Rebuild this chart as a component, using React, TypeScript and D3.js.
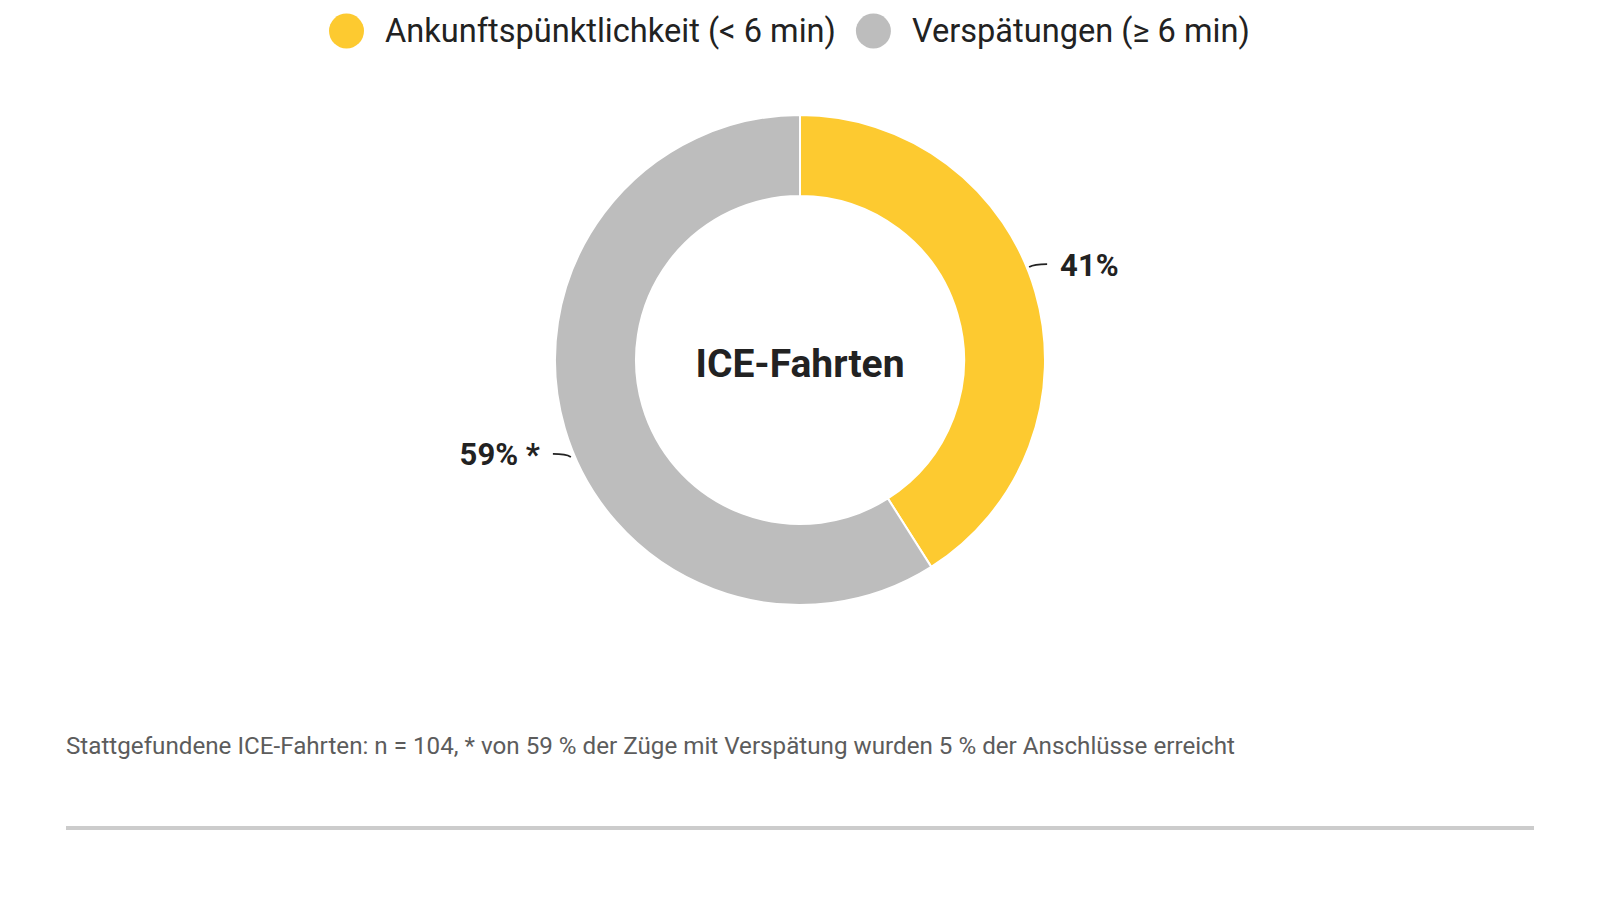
import React, { useRef, useEffect } from 'react';
import * as d3 from 'd3';

// Chart data
const categories = ['Ankunftspünktlichkeit (< 6 min)', 'Verspätungen (≥ 6 min)'];
const values = [41, 59];
const valueLabels = ['41%', '59% *'];
const colors = ['#fdca30', '#bdbdbd'];
const centerTitle = 'ICE-Fahrten';
const footnote =
  'Stattgefundene ICE-Fahrten: n = 104, * von 59 % der Züge mit Verspätung wurden 5 % der Anschlüsse erreicht';

const WIDTH = 1600;
const HEIGHT = 900;
const FONT = 'Roboto, "Noto Sans", sans-serif';

function DonutChart() {
  const svgRef = useRef<SVGSVGElement>(null);

  useEffect(() => {
    if (!svgRef.current) return;
    const svg = d3.select(svgRef.current);
    svg.selectAll('*').remove();

    const cx = 800;
    const cy = 360;
    const outerR = 245;
    const innerR = 164;

    // Legend, laid out from measured text widths
    const legend = svg.append('g').attr('font-family', FONT);
    let x = 329;
    categories.forEach((name, i) => {
      legend.append('circle')
        .attr('cx', x + 17.5)
        .attr('cy', 31)
        .attr('r', 17.5)
        .attr('fill', colors[i]);
      const t = legend.append('text')
        .attr('x', x + 56)
        .attr('y', 42)
        .attr('font-size', 32.6)
        .attr('fill', '#222')
        .text(name);
      const w = (t.node() as SVGTextElement).getComputedTextLength();
      x = x + 56 + w + 20;
    });

    // Donut
    const pie = d3.pie<number>().sort(null).value((d) => d);
    const arc = d3.arc<d3.PieArcDatum<number>>().innerRadius(innerR).outerRadius(outerR);
    const arcs = pie(values);

    const g = svg.append('g').attr('transform', `translate(${cx},${cy})`);
    g.selectAll('path.slice')
      .data(arcs)
      .join('path')
      .attr('class', 'slice')
      .attr('d', arc)
      .attr('fill', (_, i) => colors[i])
      .attr('stroke', '#fff')
      .attr('stroke-width', 2);

    // Center title
    g.append('text')
      .attr('x', 0)
      .attr('y', 4)
      .attr('text-anchor', 'middle')
      .attr('dominant-baseline', 'central')
      .attr('font-family', FONT)
      .attr('font-weight', 700)
      .attr('font-size', 39)
      .attr('fill', '#222')
      .text(centerTitle);

    // Value labels with short leader ticks
    arcs.forEach((a, i) => {
      const angle = (a.startAngle + a.endAngle) / 2 - 0.11;
      const r = outerR + 3;
      const px = Math.sin(angle) * r;
      const py = -Math.cos(angle) * r;
      const side = Math.sin(angle) > 0 ? 1 : -1;

      const path = d3.path();
      path.moveTo(px, py + 2);
      path.quadraticCurveTo(px + side * 5, py - 1, px + side * 18, py - 1);
      g.append('path')
        .attr('d', path.toString())
        .attr('fill', 'none')
        .attr('stroke', '#222')
        .attr('stroke-width', 1.8);

      g.append('text')
        .attr('x', px + side * 31)
        .attr('y', py)
        .attr('text-anchor', side > 0 ? 'start' : 'end')
        .attr('dominant-baseline', 'central')
        .attr('font-family', FONT)
        .attr('font-weight', 700)
        .attr('font-size', 31)
        .attr('fill', '#222')
        .text(valueLabels[i]);
    });

    // Footnote
    svg.append('text')
      .attr('x', 66)
      .attr('y', 754)
      .attr('font-family', FONT)
      .attr('font-size', 24.2)
      .attr('fill', '#5c5c5c')
      .text(footnote);

    // Bottom rule
    svg.append('line')
      .attr('x1', 66)
      .attr('x2', 1534)
      .attr('y1', 828)
      .attr('y2', 828)
      .attr('stroke', '#cccccc')
      .attr('stroke-width', 4);
  }, []);

  return <svg ref={svgRef} width={WIDTH} height={HEIGHT} style={{ display: 'block' }} />;
}

export default function App() {
  return (
    <div style={{ position: 'absolute', left: 0, top: 0, width: WIDTH, height: HEIGHT, background: '#fff' }}>
      <DonutChart />
    </div>
  );
}
